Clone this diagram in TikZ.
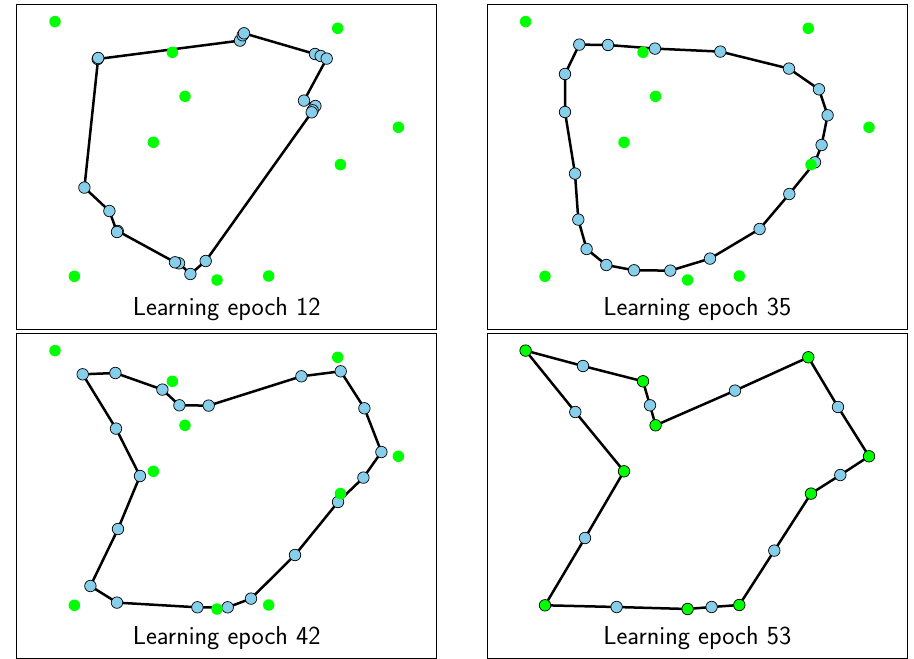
\documentclass[tikz,border=0pt]{standalone}
\usepackage{tikz}
\usetikzlibrary{backgrounds}
\definecolor{skyblue}{RGB}{135,206,235}
\definecolor{lime}{RGB}{0,255,0}

\tikzset{
  panel/.style={draw=black,line width=0.8pt},
  neuron/.style={circle,draw=black,fill=skyblue,line width=0.7pt,inner sep=0pt,minimum size=11.5pt},
  hit/.style={neuron,fill=lime},
  city/.style={circle,fill=lime,inner sep=0pt,minimum size=11.5pt},
  tour/.style={draw=black,line width=2.5pt,line join=round},
  epochtext/.style={font=\sffamily\fontsize{26}{30}\selectfont,anchor=base}
}

% the ten cities, same place in every panel
\newcommand{\drawcities}[1]{%
  \foreach \n/\x/\y in {1/38.3/17.3,2/321/24,3/155.7/48,4/168.3/92,5/136.7/138,
      6/381.7/123,7/323.7/160.3,8/57.7/272,9/200.3/275.7,10/252/271.7}
    \node[city] (#1\n) at (\x,\y) {};%
}
% closed ring through the 20 units
\newcommand{\drawtour}[1]{%
  \begin{pgfonlayer}{background}
    \draw[tour] (#11.center) \foreach \n in {2,...,20}{ -- (#1\n.center)} -- cycle;
  \end{pgfonlayer}%
}

\begin{document}
\begin{tikzpicture}[x=1pt,y=-1pt]
    \useasboundingbox (0,0) rectangle (914,659);

    % epoch 12
    \begin{scope}[shift={(16.7,4.3)}]
        \draw[panel] (0,0) rectangle (420,325);
        \foreach \n/\x/\y in {1/81/54.7,2/223.3/36.3,3/226/31,4/227.3/29,5/298.3/49.7,
            6/304/51.7,7/310/54.3,8/287.3/96.3,9/298.7/101.7,10/296/106,
            11/295/108,12/189/256.7,13/173.7/269.7,14/162.3/259,15/158.3/258,
            16/101/226.7,17/100.3/227.7,18/92.7/206.7,19/67.7/183.3,20/81.5/53.7}
            \node[neuron] (u12-\n) at (\x,\y) {};
        \drawtour{u12-}
        \drawcities{c12-}
        \node[epochtext] (t12) at (210,311.5) {Learning epoch 12};
    \end{scope}

    % epoch 35
    \begin{scope}[shift={(487.3,4.3)}]
        \draw[panel] (0,0) rectangle (420,325);
        \foreach \n/\x/\y in {1/92/40.3,2/120.7/40.7,3/167.7/44.3,4/233/47.3,5/301.7/64.3,
            6/331.7/85,7/340.3/111,8/334.3/140.7,9/327.7/158,10/302/189.7,
            11/272.3/224.7,12/222.7/254.3,13/183/266.3,14/146.7/266,15/119/260.7,
            16/99.3/244.7,17/91/215.3,18/87.7/169.3,19/77.7/107.7,20/77.7/69.7}
            \node[neuron] (u35-\n) at (\x,\y) {};
        \drawtour{u35-}
        \drawcities{c35-}
        \node[epochtext] (t35) at (210,311.5) {Learning epoch 35};
    \end{scope}

    % epoch 42
    \begin{scope}[shift={(16.7,333.3)}]
        \draw[panel] (0,0) rectangle (420,325);
        \foreach \n/\x/\y in {1/66/41,2/98.7/39.7,3/145.7/56.3,4/162.7/72,5/192/72.3,
            6/284.7/43,7/324/38,8/347.7/75,9/364.7/118.7,10/346.7/144.3,
            11/321.3/168.7,12/278.3/221.7,13/234.3/265.3,14/211/274,15/180.7/274,
            16/100.3/269.3,17/73.7/252.7,18/101.3/195.7,19/123.3/142.7,20/99.3/95.3}
            \node[neuron] (u42-\n) at (\x,\y) {};
        \drawtour{u42-}
        \drawcities{c42-}
        \node[epochtext] (t42) at (210,311.5) {Learning epoch 42};
    \end{scope}

    % epoch 53, every city has its unit
    \begin{scope}[shift={(487.3,333.3)}]
        \draw[panel] (0,0) rectangle (420,325);
        \drawcities{c53-}
        \foreach \n/\x/\y/\s in {1/38.3/17.3/hit,2/95.7/32.7/neuron,3/155.7/48/hit,
            4/162.7/72/neuron,5/168.3/92/hit,6/247.7/57.3/neuron,7/321/24/hit,
            8/350.7/73.7/neuron,9/381.7/123/hit,10/353/141.7/neuron,11/323.7/160.3/hit,
            12/287/217.3/neuron,13/252/271.7/hit,14/224.3/273.7/neuron,15/200.3/275.7/hit,
            16/129.3/273.7/neuron,17/57.7/272/hit,18/97.7/204.7/neuron,19/136.7/138/hit,
            20/88/78.7/neuron}
            \node[\s] (u53-\n) at (\x,\y) {};
        \drawtour{u53-}
        \node[epochtext] (t53) at (210,311.5) {Learning epoch 53};
    \end{scope}
\end{tikzpicture}
\end{document}
